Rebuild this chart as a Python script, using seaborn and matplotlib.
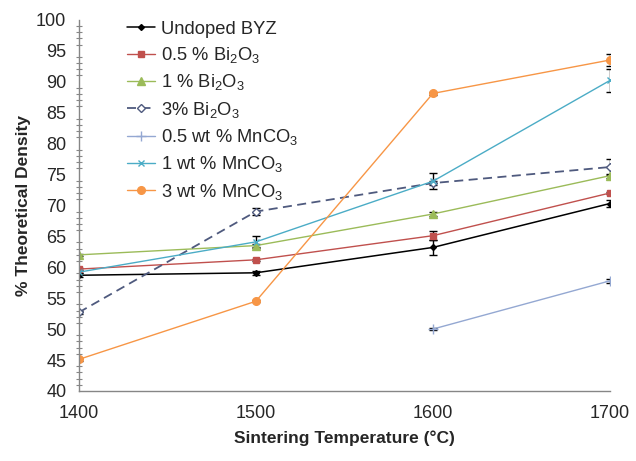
import matplotlib
matplotlib.use("Agg")
import matplotlib.pyplot as plt
import seaborn as sns
import pandas as pd
import numpy as np
from matplotlib.ticker import MultipleLocator

temps = [1400, 1500, 1600, 1700]
series_names = ["Undoped BYZ", "0.5 % Bi$_2$O$_3$", "1 % Bi$_2$O$_3$", "3% Bi$_2$O$_3$",
                "0.5 wt % MnCO$_3$", "1 wt % MnCO$_3$", "3 wt % MnCO$_3$"]
undoped = [58.7, 59.1, 63.2, 70.3]
bi05 = [59.7, 61.2, 65.1, 72.0]
bi1 = [62.0, 63.5, 68.6, 74.8]
bi3 = [52.7, 69.0, 73.6, 76.2]
mn05 = [np.nan, np.nan, 50.0, 57.8]
mn1 = [59.2, 64.1, 73.9, 90.2]
mn3 = [45.1, 54.5, 88.1, 93.5]
err_undoped = [0.3, 0.3, 1.2, 0.6]
err_bi05 = [0.2, 0.2, 0.7, 0.2]
err_bi1 = [0.2, 0.3, 0.3, 0.3]
err_bi3 = [0.3, 0.5, 0.3, 1.3]
err_mn05 = [0, 0, 0.2, 0.3]
err_mn1 = [0.2, 1.0, 1.3, 1.8]
err_mn3 = [0.2, 0.2, 0.2, 0.9]

values = [undoped, bi05, bi1, bi3, mn05, mn1, mn3]
errors = [err_undoped, err_bi05, err_bi1, err_bi3, err_mn05, err_mn1, err_mn3]

rows = []
for name, vals in zip(series_names, values):
    for t, v in zip(temps, vals):
        rows.append({"Temp": t, "Density": v, "Series": name})
df = pd.DataFrame(rows).dropna()

colors = ["#000000", "#C0504D", "#9BBB59", "#4F5A7E", "#94A8D2", "#4BACC6", "#F79646"]
markers = ["D", "s", "^", "D", "+", "x", "o"]
msizes = [3.0, 5, 5.5, 4.5, 7, 5, 5.5]
styles = ["-", "-", "-", (0, (5, 3)), "-", "-", "-"]
lws = [1.1, 1.0, 1.0, 1.3, 1.0, 1.0, 1.0]

sns.set_style("white")
plt.rcParams['font.family'] = ['Liberation Sans', 'DejaVu Sans']
plt.rcParams['mathtext.fontset'] = 'custom'
plt.rcParams['mathtext.rm'] = 'Liberation Sans'
plt.rcParams['mathtext.default'] = 'regular'

fig = plt.figure(figsize=(6.36, 4.61), dpi=100)
ax = fig.add_axes([0.124, 0.152, 0.835, 0.805])

for i, name in enumerate(series_names):
    sub = df[df["Series"] == name]
    mfc = "white" if i == 3 else colors[i]
    sns.lineplot(data=sub, x="Temp", y="Density", ax=ax, color=colors[i],
                 marker=markers[i], markersize=msizes[i], linestyle=styles[i],
                 linewidth=lws[i], markerfacecolor=mfc, markeredgecolor=colors[i],
                 markeredgewidth=1.0, label=name, errorbar=None)
    sub_err = [e for e, v in zip(errors[i], values[i]) if not np.isnan(v)]
    ax.errorbar(sub["Temp"], sub["Density"], yerr=sub_err, fmt="none",
                ecolor="black", elinewidth=1.0, capsize=3, capthick=1.0, zorder=1)

ax.set_xlim(1400, 1700)
ax.set_ylim(40, 100)
ax.set_xticks([1400, 1500, 1600, 1700])
ax.yaxis.set_major_locator(MultipleLocator(5))
ax.yaxis.set_minor_locator(MultipleLocator(1))
ax.tick_params(axis="y", which="major", direction="inout", length=6, width=0.8,
               color="#868686", labelsize=13, pad=6)
ax.tick_params(axis="y", which="minor", direction="inout", length=5, width=0.8,
               color="#868686", left=True)
ax.tick_params(axis="x", which="major", direction="in", length=5, width=0.8,
               color="#868686", labelsize=13, pad=10)
for s in ["top", "right"]:
    ax.spines[s].set_visible(False)
for s in ["left", "bottom"]:
    ax.spines[s].set_color("#868686")
    ax.spines[s].set_linewidth(1.0)

ax.set_xlabel("Sintering Temperature (°C)", fontsize=12.5, fontweight="bold", labelpad=6)
ax.set_ylabel("% Theoretical Density", fontsize=12.5, fontweight="bold", labelpad=4)

leg = ax.legend(loc="upper left", bbox_to_anchor=(0.07, 1.027), frameon=False,
                fontsize=13.2, handlelength=1.55, handletextpad=0.3,
                labelspacing=0.4, borderaxespad=0.2)

fig.savefig("out.png", dpi=100)
